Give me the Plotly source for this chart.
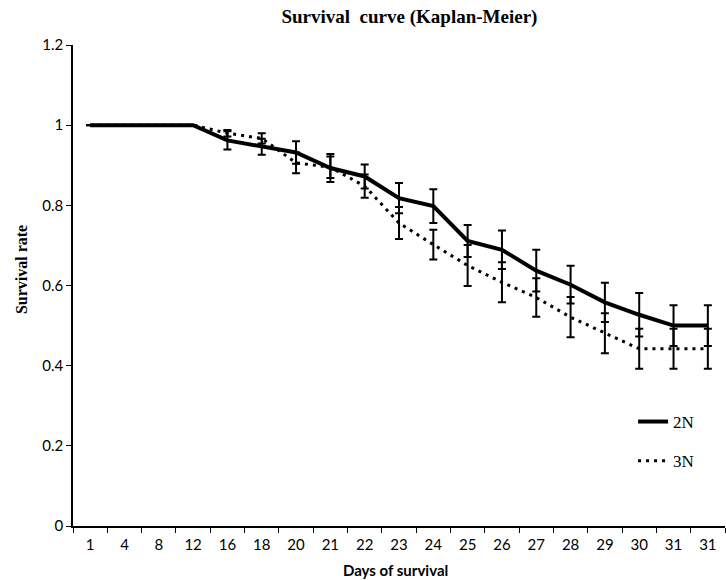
import plotly.graph_objects as go

days = ["1", "4", "8", "12", "16", "18", "20", "21", "22", "23", "24", "25",
        "26", "27", "28", "29", "30", "31", "31"]
surv_2n = [1, 1, 1, 1, 0.962, 0.946, 0.932, 0.893, 0.872, 0.818, 0.798, 0.711,
           0.689, 0.637, 0.602, 0.558, 0.527, 0.50, 0.50]
err_2n = [None, None, None, None, 0.023, 0.02, 0.028, 0.035, 0.03, 0.038, 0.042,
          0.04, 0.048, 0.052, 0.047, 0.049, 0.054, 0.051, 0.051]
surv_3n = [1, 1, 1, 1, 0.98, 0.967, 0.906, 0.895, 0.848, 0.756, 0.702, 0.65,
           0.608, 0.57, 0.521, 0.481, 0.442, 0.442, 0.442]
err_3n = [None, None, None, None, 0.008, 0.013, 0.026, 0.027, 0.029, 0.04, 0.037,
          0.051, 0.05, 0.048, 0.05, 0.05, 0.05, 0.05, 0.05]

pos = list(range(len(days)))

fig = go.Figure()
fig.add_trace(go.Scatter(
    x=pos, y=surv_2n, name="2N", mode="lines", legendgroup="a",
    line=dict(color="black", width=4),
    error_y=dict(type="data", array=err_2n, visible=True, color="black",
                 thickness=2, width=4),
))
fig.add_trace(go.Scatter(
    x=pos, y=surv_3n, name="3N", mode="lines", legendgroup="b",
    line=dict(color="black", width=3, dash="3px,5px"),
    error_y=dict(type="data", array=err_3n, visible=True, color="black",
                 thickness=2, width=4),
))

fig.update_layout(
    width=726, height=580,
    margin=dict(l=73, r=1, t=45, b=54),
    paper_bgcolor="white", plot_bgcolor="white",
    showlegend=True,
    legend=dict(x=0.859, y=0.1757, xanchor="left", yanchor="middle",
                font=dict(family="Liberation Serif", size=17, color="black"),
                traceorder="grouped", tracegroupgap=14,
                bgcolor="rgba(0,0,0,0)"),
    title=dict(text="<b>Survival  curve (Kaplan-Meier)</b>",
               xref="container", x=0.564, xanchor="center",
               yref="container", y=0.972, yanchor="middle",
               font=dict(family="Liberation Serif", size=19, color="black")),
    xaxis=dict(range=[-0.5, len(days) - 0.5], tickmode="array",
               tickvals=pos, ticktext=days, ticks="",
               showline=True, linecolor="black", linewidth=1.5,
               showgrid=False, zeroline=False, ticklabelstandoff=4,
               tickfont=dict(family="Lato", size=15, color="black"),
               minor=dict(tickmode="linear", tick0=-0.5, dtick=1,
                          ticks="outside", ticklen=5, tickcolor="black",
                          tickwidth=1.2, showgrid=False)),
    yaxis=dict(range=[0, 1.2], dtick=0.2, ticks="outside", ticklen=5,
               tickcolor="black", tickwidth=1.2,
               showline=True, linecolor="black", linewidth=1.5,
               showgrid=False, zeroline=False,
               tickfont=dict(family="Lato", size=15, color="black")),
    annotations=[
        dict(text="<b>Survival rate</b>", xref="paper", yref="paper",
             x=-0.0798, y=0.534, xanchor="center", yanchor="middle",
             textangle=-90, showarrow=False,
             font=dict(family="Liberation Serif", size=16, color="black")),
        dict(text="<b>Days of survival</b>", xref="paper", yref="paper",
             x=0.4946, y=-0.0925, xanchor="center", yanchor="middle",
             showarrow=False,
             font=dict(family="Lato", size=15, color="black")),
    ],
)

fig.write_html("out.html", config={"displayModeBar": False},
               post_script="document.body.style.margin='0';")
